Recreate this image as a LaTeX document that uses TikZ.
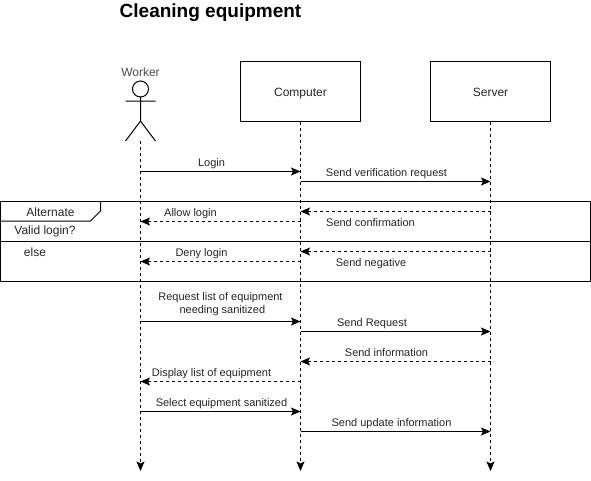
\documentclass[tikz,border=0pt]{standalone}
\usepackage{fontspec}
\setmainfont{Liberation Sans}
\usetikzlibrary{arrows.meta}
\tikzset{
  ln/.style={line width=1pt,black},
  life/.style={ln,dashed,dash pattern=on 3pt off 3pt,-{Stealth[length=9.5pt,width=8pt,inset=2pt]}},
  msg/.style={ln,-{Stealth[length=9.5pt,width=8pt,inset=2pt]}},
  ret/.style={msg,dash pattern=on 3pt off 3pt},
  lbl/.style={inner sep=0pt,yshift=-1.5pt,text=black!85,font=\fontsize{11}{13}\selectfont,align=center},
  big/.style={lbl,font=\fontsize{12}{14}\selectfont},
  box/.style={ln,draw,minimum width=120pt,minimum height=60pt,inner sep=0pt,text height=10pt,text depth=0pt,font=\fontsize{12}{14}\selectfont,text=black!85}
}
\begin{document}
\begin{tikzpicture}[x=1pt,y=-1pt]
\useasboundingbox (0,0) rectangle (591,480);
\fill[white] (0,0) rectangle (591,480);
\node[inner sep=0pt,font=\bfseries\fontsize{19}{23}\selectfont] (title) at (210.5,12.5) {Cleaning equipment};
% participants
\node[box] (comp) at (300.5,91.5) {Computer};
\node[box] (serv) at (490.5,91.5) {Server};
\node[big,text=black!70] (worker) at (140.5,71) {Worker};
\coordinate (act) at (140.5,141);
\draw[ln] (140.5,89) circle (8);
\draw[ln] (140.5,97) -- (140.5,121) (125.5,101) -- (155.5,101) (125.5,141) -- (140.5,121) -- (155.5,141);
% lifeline ends
\coordinate (wend) at (140.5,471);
\coordinate (cend) at (300.5,471);
\coordinate (send) at (490.5,471);
% frame
\draw[ln] (0.5,201) rectangle (590.5,281);
\draw[ln] (0.5,241) -- (590.5,241);
\draw[ln] (100.5,201) -- (100.5,211) -- (90.5,221) -- (0.5,221);
\node[big] (alt) at (50.5,210.5) {Alternate};
\node[big] (valid) at (45,230) {Valid login?};
\node[big] (else) at (35,250.5) {else};
% lifelines
\draw[life] (act) -- (wend);
\draw[life] (comp.south) -- (cend);
\draw[life] (serv.south) -- (send);
% y levels
\foreach \n/\y in {a/171.5,b/181.5,c/211.5,d/221.5,e/251.5,f/261.5,g/321.5,h/331.5,i/361.5,j/381.5,k/411.5,l/431.5}
  \coordinate (y\n) at (0,\y);
% messages
\draw[msg] (act |- ya) -- (comp |- ya);
\draw[msg] (comp |- yb) -- (serv |- yb);
\draw[ret] (serv |- yc) -- (comp |- yc);
\draw[ret] (comp |- yd) -- (act |- yd);
\draw[ret] (serv |- ye) -- (comp |- ye);
\draw[ret] (comp |- yf) -- (act |- yf);
\draw[msg] (act |- yg) -- (comp |- yg);
\draw[msg] (comp |- yh) -- (serv |- yh);
\draw[ret] (serv |- yi) -- (comp |- yi);
\draw[ret] (comp |- yj) -- (act |- yj);
\draw[msg] (act |- yk) -- (comp |- yk);
\draw[msg] (comp |- yl) -- (serv |- yl);
% labels
\node[lbl] (m1) at (211.5,162) {Login};
\node[lbl] (m2) at (386.5,172) {Send verification request};
\node[lbl] (m3) at (190.5,212) {Allow login};
\node[lbl] (m4) at (370.5,221) {Send confirmation};
\node[lbl] (m5) at (201.5,252) {Deny login};
\node[lbl] (m6) at (371,262) {Send negative};
\node[lbl] (m7) at (220.5,303) {Request list of equipment\\\,\,needing sanitized};
\node[lbl] (m8) at (372,322) {Send Request};
\node[lbl] (m9) at (386.5,351) {Send information};
\node[lbl] (m10) at (211.5,372) {Display list of equipment};
\node[lbl] (m11) at (221.5,402) {Select equipment sanitized};
\node[lbl] (m12) at (391.5,422) {Send update information};
\end{tikzpicture}
\end{document}
